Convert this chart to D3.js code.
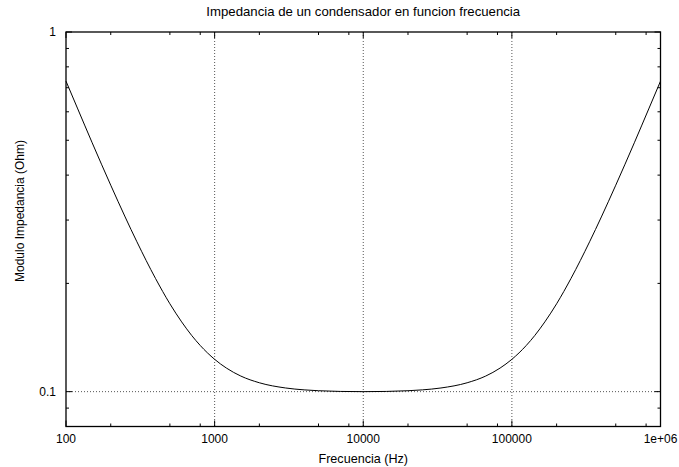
<!DOCTYPE html>
<html><head><meta charset="utf-8">
<script src="https://cdn.jsdelivr.net/npm/d3@7"></script>
<style>
body{margin:0;background:#fff;}
text{font-family:"Liberation Sans",Arial,sans-serif;fill:#000;}
</style></head>
<body><svg id="c" width="679" height="467"></svg>
<script>
const title = "Impedancia de un condensador en funcion frecuencia";
const xLabel = "Frecuencia (Hz)";
const yLabel = "Modulo Impedancia (Ohm)";
const xTickValues = [100, 1000, 10000, 100000, 1000000];
const xTickLabels = ["100", "1000", "10000", "100000", "1e+06"];
const yTickValues = [0.1, 1];
const yTickLabels = ["0.1", "1"];
const xGrid = [1000, 10000, 100000];
const yGrid = [0.1];
const xMinorMult = [2, 5, 8];
const yMinorValues = [0.09, 0.2, 0.3, 0.4, 0.5, 0.6, 0.7, 0.8, 0.9];
const xDomain = [100, 1000000];
const yDomain = [0.08, 1];

const freq = [100, 120, 150, 200, 250, 300, 400, 500, 600, 700, 800, 1000, 1200, 1500, 2000, 3000, 4000, 5000, 7000, 10000,
  14286, 20000, 25000, 33333, 50000, 66667, 83333, 100000, 125000, 142857, 166667, 200000, 250000, 333333, 400000, 500000, 666667, 833333, 1000000];
const impedance = [0.730, 0.611, 0.492, 0.375, 0.306, 0.261, 0.2065, 0.1755, 0.1563, 0.1434, 0.1344, 0.1230, 0.1163, 0.1105, 0.10585, 0.10238, 0.10115, 0.10059, 0.10014, 0.1000,
  0.10014, 0.10059, 0.10115, 0.10238, 0.10585, 0.1105, 0.1163, 0.1230, 0.1344, 0.1434, 0.1563, 0.1755, 0.2065, 0.261, 0.306, 0.375, 0.492, 0.611, 0.730];

const svg = d3.select("#c");
const L = 66, R = 660.5, T = 32, B = 426.5;
const x = d3.scaleLog().domain(xDomain).range([L, R]);
const y = d3.scaleLog().domain(yDomain).range([B, T]);

// grid
const g = svg.append("g");
xGrid.forEach(v => g.append("line").attr("x1", x(v)).attr("x2", x(v)).attr("y1", T).attr("y2", B)
  .attr("stroke", "#555").attr("stroke-width", 1).attr("stroke-dasharray", "1,2"));
yGrid.forEach(v => g.append("line").attr("x1", L).attr("x2", R).attr("y1", y(v)).attr("y2", y(v))
  .attr("stroke", "#555").attr("stroke-width", 1).attr("stroke-dasharray", "1,2"));

// ticks
const xMinor = [];
for (let d = 100; d < 1000000; d *= 10) xMinorMult.forEach(m => xMinor.push(d * m));
const tk = svg.append("g").attr("stroke", "#000").attr("stroke-width", 1);
xMinor.forEach(v => {
  tk.append("line").attr("x1", x(v)).attr("x2", x(v)).attr("y1", B).attr("y2", B - 3);
  tk.append("line").attr("x1", x(v)).attr("x2", x(v)).attr("y1", T).attr("y2", T + 3);
});
xTickValues.forEach(v => {
  tk.append("line").attr("x1", x(v)).attr("x2", x(v)).attr("y1", B).attr("y2", B - 6);
  tk.append("line").attr("x1", x(v)).attr("x2", x(v)).attr("y1", T).attr("y2", T + 6);
});
yMinorValues.forEach(v => {
  tk.append("line").attr("x1", L).attr("x2", L + 3).attr("y1", y(v)).attr("y2", y(v));
  tk.append("line").attr("x1", R).attr("x2", R - 3).attr("y1", y(v)).attr("y2", y(v));
});
yTickValues.forEach(v => {
  tk.append("line").attr("x1", L).attr("x2", L + 6).attr("y1", y(v)).attr("y2", y(v));
  tk.append("line").attr("x1", R).attr("x2", R - 6).attr("y1", y(v)).attr("y2", y(v));
});

// curve
const line = d3.line().x((d, i) => x(freq[i])).y(d => y(d)).curve(d3.curveMonotoneX);
svg.append("path").datum(impedance).attr("d", line).attr("fill", "none").attr("stroke", "#000").attr("stroke-width", 1);

// frame
svg.append("rect").attr("x", L).attr("y", T).attr("width", R - L).attr("height", B - T)
  .attr("fill", "none").attr("stroke", "#000").attr("stroke-width", 1.3);

// labels
xTickValues.forEach((v, i) => svg.append("text").attr("x", x(v)).attr("y", 443)
  .attr("text-anchor", "middle").attr("font-size", 12).text(xTickLabels[i]));
yTickValues.forEach((v, i) => svg.append("text").attr("x", 56).attr("y", y(v) + 4)
  .attr("text-anchor", "end").attr("font-size", 12).text(yTickLabels[i]));
svg.append("text").attr("x", (L + R) / 2).attr("y", 16).attr("text-anchor", "middle").attr("font-size", 13.2).text(title);
svg.append("text").attr("x", (L + R) / 2).attr("y", 463).attr("text-anchor", "middle").attr("font-size", 12.6).text(xLabel);
svg.append("text").attr("transform", "translate(24,211) rotate(-90)").attr("text-anchor", "middle")
  .attr("font-size", 12).text(yLabel);
</script></body></html>
